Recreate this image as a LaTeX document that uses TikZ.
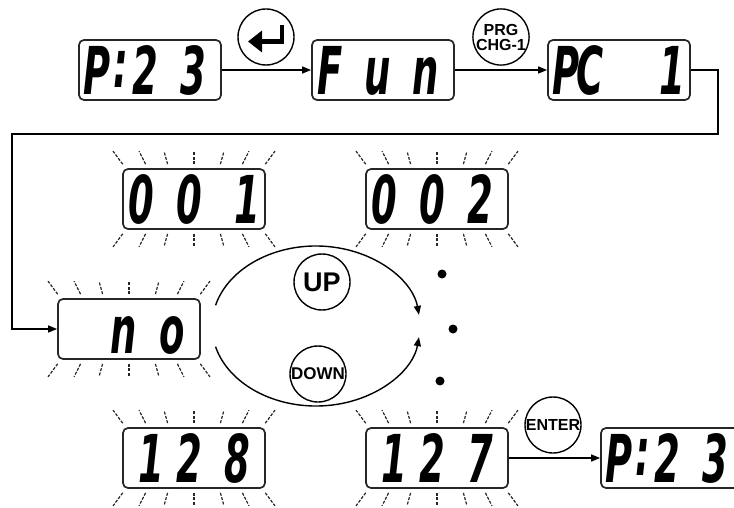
\documentclass[tikz,border=0pt]{standalone}
\usepackage{fontspec}
\usepackage{graphicx}
\usetikzlibrary{arrows.meta,calc}
\newfontfamily\segfont{DejaVu Sans}
\newfontfamily\keyfont{Liberation Sans}
% one digit cell of the display, #1 shifts the glyph right
\newcommand\dg[2][0pt]{\makebox[48pt]{\hspace{#1}\scalebox{.56}[1]{#2}}}
\newcommand\dgmid[2][0pt]{\makebox[0pt]{\raisebox{#1}{\scalebox{.56}[1]{#2}}}}
\newcommand\lcdtext[1]{\makebox[142pt][l]{\hspace{-6pt}\vphantom{8}#1}}

\begin{document}
\begin{tikzpicture}[x=1pt,y=-1pt,>={Triangle[length=9pt,width=7pt]},
    lcd/.style={draw=black!85,line width=1.7pt,rounded corners=5pt,minimum width=142pt,
      minimum height=60pt,inner sep=0pt,font=\segfont\fontsize{66}{66}\selectfont\bfseries\itshape},
    key/.style={draw,circle,line width=1.4pt,minimum size=56pt,inner sep=0pt,font=\keyfont\bfseries},
    ray/.style={line width=1.2pt,black!85,dash pattern=on 3pt off 1.5pt},
    link/.style={line width=1.4pt}]
  \useasboundingbox (0,0) rectangle (734,508);

  % displays
  \node[lcd] (p23a) at (150,70) {\lcdtext{\dg{P}\dgmid[7pt]{:}\dg{2}\dg{3}}};
  \node[lcd] (fun) at (383,70) {\lcdtext{\dg{F}\dg{u}\dg{n}}};
  \node[lcd] (pc1) at (619,70) {\lcdtext{\dg{P}\dgmid{C}\dg{}\dg[20pt]{1}}};
  \node[lcd] (d001) at (194,199) {\lcdtext{\dg{0}\dg{0}\dg[20pt]{1}}};
  \node[lcd] (d002) at (437,199) {\lcdtext{\dg{0}\dg{0}\dg{2}}};
  \node[lcd] (dno) at (129,329) {\lcdtext{\dg{}\dg{n}\dg{o}}};
  \node[lcd] (d128) at (194,458) {\lcdtext{\dg[20pt]{1}\dg{2}\dg{8}}};
  \node[lcd] (d127) at (437,458) {\lcdtext{\dg[20pt]{1}\dg{2}\dg{7}}};
  \node[lcd] (p23b) at (672,458) {\lcdtext{\dg{P}\dgmid[7pt]{:}\dg{2}\dg{3}}};

  % keys
  \node[key] (enter) at (266,37) {};
  \draw[line width=4.5pt,-{Triangle[length=14pt,width=21pt]}] ($(enter)+(16,-12)$) |- ($(enter)+(-18,4.5)$);
  \node[key,align=center,font=\keyfont\bfseries\fontsize{16}{15}\selectfont] (prg) at (501,37) {PRG\\CHG-1};
  \node[key,font=\keyfont\bfseries\fontsize{27}{27}\selectfont] (up) at (322,282) {UP};
  \node[key,font=\keyfont\bfseries\fontsize{17}{17}\selectfont] (down) at (318,374) {DOWN};
  \node[key,font=\keyfont\bfseries\fontsize{16}{16}\selectfont] (ent) at (553,425) {ENTER};

  % blinking displays
  \foreach \n in {d001,d002,dno,d128,d127}
    \foreach \o in {-81,-55,-30,0,30,55,81} {
      \draw[ray] ($(\n.north)+(0.88*\o,-4)$) -- ($(\n.north)+(\o,-17)$);
      \draw[ray] ($(\n.south)+(0.88*\o,4)$) -- ($(\n.south)+(\o,17)$);
    }

  \draw[link,->] (p23a) -- (fun);
  \draw[link,->] (fun) -- (pc1);
  \coordinate (c1) at (718,134);
  \coordinate (c2) at (12,134);
  \draw[link,->] (pc1.east) -| (c1) -- (c2) |- (dno.west);
  \draw[link,->] (d127) -- (p23b);

  % up / down loop
  \coordinate (loop) at (316,326);
  \draw[link,->] (loop) ++(-165:104 and 80) arc[start angle=-165,end angle=-8,x radius=104,y radius=80];
  \draw[link,->] (loop) ++(165:104 and 80) arc[start angle=165,end angle=8,x radius=104,y radius=80];
  \fill (442,274) circle[radius=4.5];
  \fill (453,329) circle[radius=4.5];
  \fill (440,381) circle[radius=4.5];
\end{tikzpicture}
\end{document}
